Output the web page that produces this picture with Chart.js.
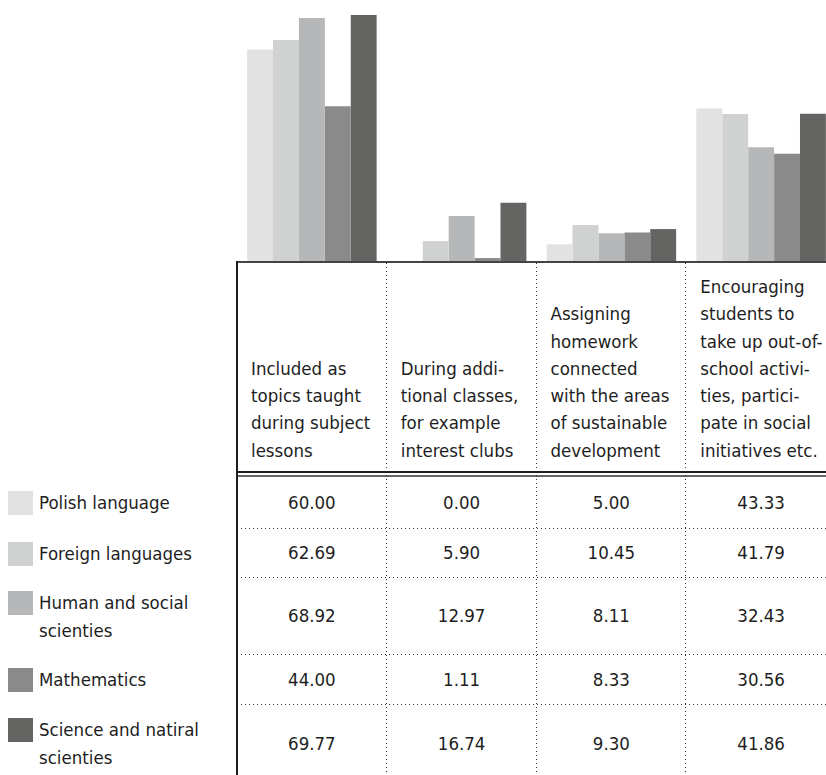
<!DOCTYPE html>
<html>
<head>
<meta charset="utf-8">
<script src="https://cdn.jsdelivr.net/npm/chart.js@4.4.1/dist/chart.umd.min.js"></script>
<style>
html, body { margin: 0; padding: 0; background: #fff; overflow: hidden; width: 826px; height: 775px; }
body { position: relative; font-family: "Liberation Sans Narrow", "DejaVu Sans Condensed", sans-serif; font-size: 18.5px; color: #1e1e1e; }
#chartBox { position: absolute; left: 237px; top: 0; width: 599px; height: 262px; }
.abs { position: absolute; }
.vdot { width: 1px; background: repeating-linear-gradient(to bottom, #333 0 1px, transparent 1px 4px); }
.hdot { height: 1px; background: repeating-linear-gradient(to right, #333 0 1px, transparent 1px 4px); }
.head { display: flex; flex-direction: column; justify-content: flex-end; line-height: 27.3px; white-space: nowrap; box-sizing: border-box; padding-bottom: 7px; }
.val { display: flex; align-items: center; justify-content: center; }
.sw { width: 25px; height: 24px; }
.lt { line-height: 27.3px; max-width: 180px; }
</style>
</head>
<body>
<div id="chartBox"><canvas id="chart" width="599" height="262"></canvas></div>
<div id="grid"></div>
<script>
const categories = [
  ['Included as', 'topics taught', 'during subject', 'lessons'],
  ['During addi-', 'tional classes,', 'for example', 'interest clubs'],
  ['Assigning', 'homework', 'connected', 'with the areas', 'of sustainable', 'development'],
  ['Encouraging', 'students to', 'take up out-of-', 'school activi-', 'ties, partici-', 'pate in social', 'initiatives etc.']
];
const seriesNames = ['Polish language', 'Foreign languages', 'Human and social scienties', 'Mathematics', 'Science and natiral scienties'];
const polish = [60.00, 0.00, 5.00, 43.33];
const foreign = [62.69, 5.90, 10.45, 41.79];
const human = [68.92, 12.97, 8.11, 32.43];
const maths = [44.00, 1.11, 8.33, 30.56];
const science = [69.77, 16.74, 9.30, 41.86];
const colors = ['#e2e2e2', '#d0d1d1', '#b6b7b8', '#8a8a8a', '#646463'];

const series = [polish, foreign, human, maths, science];

const chart = new Chart(document.getElementById('chart'), {
  type: 'bar',
  data: {
    labels: categories,
    datasets: series.map((d, i) => ({
      label: seriesNames[i],
      data: d,
      backgroundColor: colors[i],
      borderWidth: 0,
      categoryPercentage: 0.865,
      barPercentage: 1.0
    }))
  },
  options: {
    responsive: false,
    animation: false,
    layout: { padding: 0 },
    plugins: { legend: { display: false }, tooltip: { enabled: false } },
    scales: {
      x: { display: false },
      y: { display: false, min: 0, max: 74 }
    }
  }
});

// table under the bars, columns taken from the chart's x scale
const grid = document.getElementById('grid');
const offX = 237;
const xs = chart.scales.x;
const colW = (xs.right - xs.left) / categories.length;
const colLeft = j => offX + xs.left + j * colW;
const tableRight = colLeft(categories.length);
const headTop = 263, headBottom = 471, bodyTop = 477, pageBottom = 775;
const rowHeights = [51, 49, 77, 50, 78];

function box(cls, l, t, w, h, inner, extra) {
  const d = document.createElement('div');
  d.className = 'abs ' + cls;
  d.style.left = l + 'px'; d.style.top = t + 'px';
  if (w != null) d.style.width = w + 'px';
  if (h != null) d.style.height = h + 'px';
  if (extra) Object.assign(d.style, extra);
  if (inner != null) d.innerHTML = inner;
  grid.appendChild(d);
  return d;
}

// header text
categories.forEach((c, j) => {
  box('head', colLeft(j) + 14, headTop, colW - 14, headBottom - headTop, c.map(s => '<div>' + s + '</div>').join(''));
});

// rows
let y = bodyTop;
series.forEach((d, i) => {
  const h = rowHeights[i];
  d.forEach((v, j) => box('val', colLeft(j), y, colW, h, v.toFixed(2)));
  box('', 8, y + 14, 220, null, '<div class="sw" style="background:' + colors[i] + '"></div>');
  box('lt', 39, y + 12.4, 180, null, seriesNames[i]);
  if (i > 0) box('hdot', colLeft(0), y, tableRight - colLeft(0), null);
  y += h;
});

// lines
box('', colLeft(0), 261, tableRight - colLeft(0), 2, null, { background: '#444' });
box('', colLeft(0), headBottom, tableRight - colLeft(0), 2, null, { background: '#1e1e1e' });
box('', colLeft(0), headBottom + 4, tableRight - colLeft(0), 2, null, { background: '#666' });
for (let j = 1; j < categories.length; j++) {
  box('vdot', Math.round(colLeft(j)) - 1, headTop, null, pageBottom - headTop);
}
box('', colLeft(0) - 1, 261, 2, pageBottom - 261, null, { background: '#1e1e1e' });
</script>
</body>
</html>
